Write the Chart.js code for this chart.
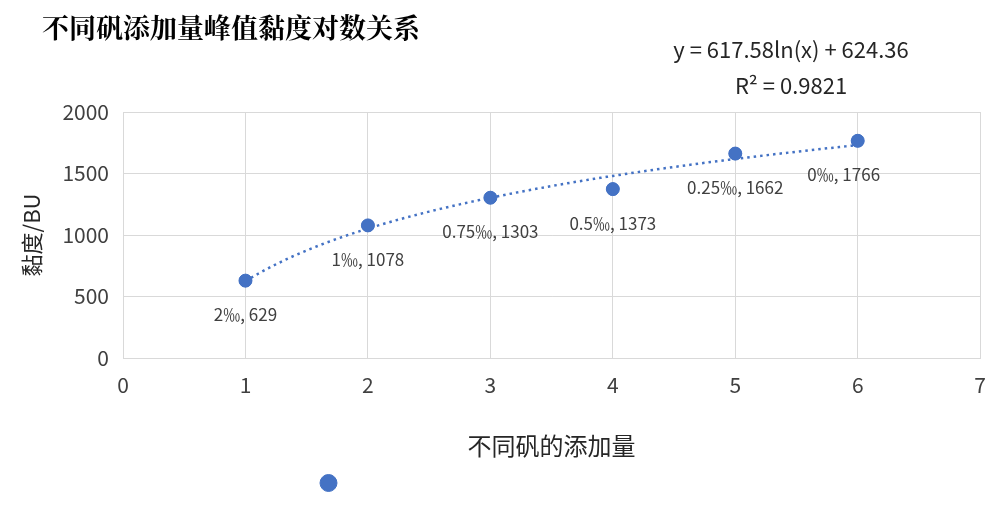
<!DOCTYPE html>
<html>
<head>
<meta charset="utf-8">
<script src="https://cdn.jsdelivr.net/npm/chart.js@4"></script>
<style>
  body { margin: 0; background: #fff; }
  #wrap { width: 1000px; height: 512px; position: relative; }
</style>
</head>
<body>
<div id="wrap"><canvas id="c"></canvas></div>
<script>
const amounts = ['2‰', '1‰', '0.75‰', '0.5‰', '0.25‰', '0‰'];
const xValues = [1, 2, 3, 4, 5, 6];
const viscosity = [629, 1078, 1303, 1373, 1662, 1766];
const xTicks = [0, 1, 2, 3, 4, 5, 6, 7];
const yTicks = [0, 500, 1000, 1500, 2000];
// trendline from the chart's own equation: y = a ln(x) + b
const trendA = 617.58;
const trendB = 624.36;

const blue = '#4472C4';
const font = "'Noto Sans CJK SC', 'Noto Sans', sans-serif";

const extras = {
    id: 'extras',
    afterDatasetsDraw(chart) {
        const { ctx, scales: { x, y } } = chart;
        // dotted log trendline
        ctx.save();
        ctx.strokeStyle = blue;
        ctx.lineWidth = 2.5;
        ctx.setLineDash([2.5, 4]);
        ctx.beginPath();
        for (let i = 0; i <= 100; i++) {
            const xv = 1 + i * 0.05;
            const px = x.getPixelForValue(xv);
            const py = y.getPixelForValue(trendA * Math.log(xv) + trendB);
            if (i == 0) ctx.moveTo(px, py); else ctx.lineTo(px, py);
        }
        ctx.stroke();
        ctx.setLineDash([]);

        // redraw points on top
        ctx.fillStyle = blue;
        xValues.forEach((xv, i) => {
            ctx.beginPath();
            ctx.arc(x.getPixelForValue(xv), y.getPixelForValue(viscosity[i]), 6.5, 0, Math.PI * 2);
            ctx.fill();
        });

        // data labels
        ctx.fillStyle = '#404040';
        ctx.font = '17px ' + font;
        ctx.textAlign = 'center';
        ctx.textBaseline = 'middle';
        xValues.forEach((xv, i) => {
            const px = x.getPixelForValue(xv) - (i == 5 ? 14 : 0);
            const py = y.getPixelForValue(viscosity[i]) + 34;
            ctx.fillText(amounts[i] + ', ' + viscosity[i], px, py);
        });

        // title and equation
        ctx.fillStyle = '#000';
        ctx.textAlign = 'left';
        ctx.font = "bold 27px 'Noto Serif CJK SC', 'Noto Sans CJK SC', serif";
        ctx.fillText('不同矾添加量峰值黏度对数关系', 42, 28);
        ctx.fillStyle = '#262626';
        ctx.textAlign = 'center';
        ctx.font = '22px ' + font;
        ctx.fillText('y = 617.58ln(x) + 624.36', 791, 50);
        ctx.fillText('R² = 0.9821', 791, 86);
        ctx.restore();
    }
};

new Chart(document.getElementById('c'), {
    type: 'scatter',
    data: {
        datasets: [{
            label: '\u3000'.repeat(24),
            data: xValues.map((xv, i) => ({ x: xv, y: viscosity[i] })),
            backgroundColor: blue,
            borderColor: blue,
            pointRadius: 6.5,
            pointStyle: 'circle'
        }]
    },
    plugins: [extras],
    options: {
        responsive: true,
        maintainAspectRatio: false,
        animation: false,
        layout: { padding: { top: 112, right: 14, left: 14, bottom: 12 } },
        plugins: {
            tooltip: { enabled: false },
            legend: {
                position: 'bottom',
                labels: {
                    usePointStyle: true,
                    boxWidth: 12,
                    boxHeight: 12,
                    color: '#fff',
                    font: { size: 14, family: font },
                    padding: 12
                }
            }
        },
        scales: {
            x: {
                type: 'linear',
                min: 0, max: 7,
                afterBuildTicks: (s) => { s.ticks = xTicks.map(v => ({ value: v })); },
                grid: { color: '#d9d9d9', drawTicks: false },
                border: { color: '#d9d9d9' },
                ticks: { color: '#404040', font: { size: 21, family: font }, padding: 14, callback: v => String(v) },
                title: { display: true, text: '不同矾的添加量', color: '#262626', font: { size: 24, family: font }, padding: { top: 20 } }
            },
            y: {
                min: 0, max: 2000,
                afterBuildTicks: (s) => { s.ticks = yTicks.map(v => ({ value: v })); },
                grid: { color: '#d9d9d9', drawTicks: false },
                border: { color: '#d9d9d9' },
                ticks: { color: '#404040', font: { size: 21, family: font }, padding: 14, callback: v => String(v) },
                title: { display: true, text: '黏度/BU', color: '#262626', font: { size: 22, family: font }, padding: { bottom: 4 } }
            }
        }
    }
});
</script>
</body>
</html>
